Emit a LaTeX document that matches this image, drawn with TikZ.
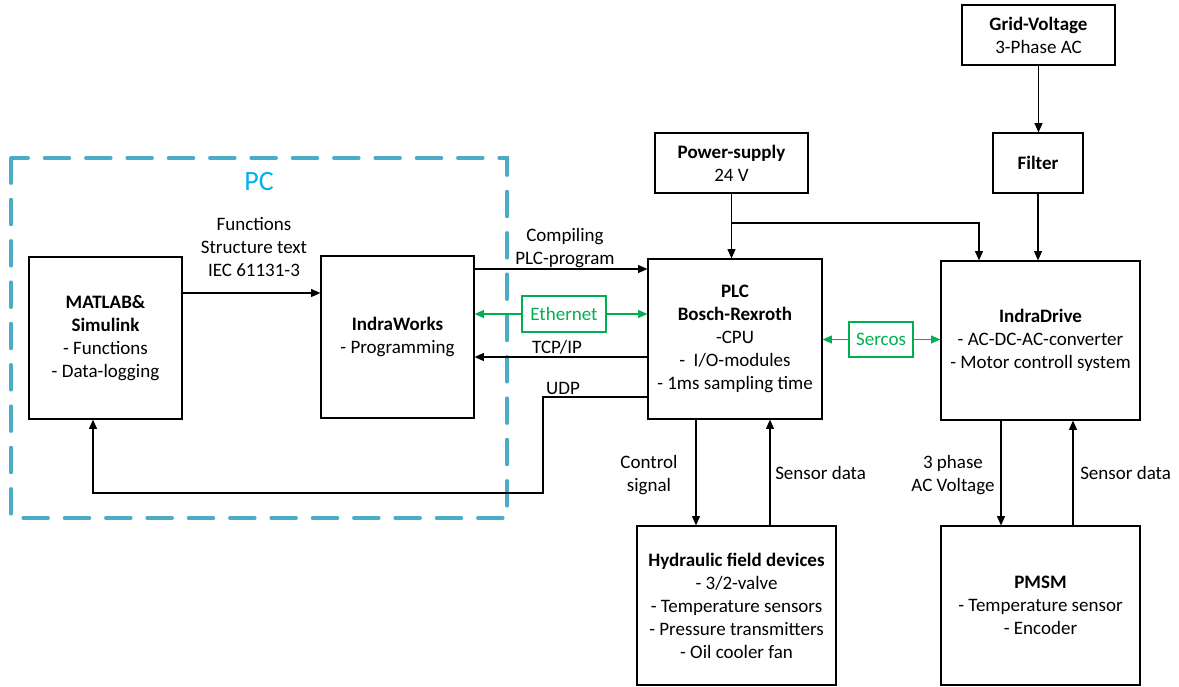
\documentclass[tikz,border=0pt]{standalone}
\usepackage{fontspec}
\setmainfont{Carlito}
\usetikzlibrary{arrows.meta}
\definecolor{pcblue}{RGB}{75,172,198}
\definecolor{pctext}{RGB}{0,176,240}
\definecolor{netgreen}{RGB}{0,176,80}
\begin{document}
\begin{tikzpicture}[x=0.75pt,y=-0.75pt,
  font=\fontsize{14.25pt}{17.25pt}\selectfont,
  box/.style={draw,line width=0.9pt,align=center,inner sep=0pt},
  netbox/.style={draw=netgreen,line width=0.9pt,text=netgreen,align=center,inner sep=0pt},
  arr/.style={-{Triangle[length=7pt,width=6pt]},line width=0.8pt},
  garr/.style={-{Triangle[length=7pt,width=6pt]},line width=0.8pt,draw=netgreen,fill=netgreen},
  lbl/.style={align=center,inner sep=0pt},
  pcbox/.style={draw=pcblue,line width=2.3pt,dash pattern=on 19pt off 12pt,line cap=round}]
\useasboundingbox (0,0) rectangle (1179,686);
% PC region
\draw[pcbox] (11,158) rectangle (507,518);
\node[lbl,text=pctext,font=\fontsize{21pt}{24pt}\selectfont] (pc) at (259,182) {PC};
% boxes
\node[box,minimum width={153*0.75pt},minimum height={162*0.75pt}] (matlab) at (105.5,338)
  {\textbf{MATLAB\&}\\\textbf{Simulink}\\- Functions\\- Data-logging};
\node[box,minimum width={153*0.75pt},minimum height={162*0.75pt}] (iw) at (397.5,337)
  {\textbf{IndraWorks}\\- Programming};
\node[box,minimum width={174*0.75pt},minimum height={160*0.75pt}] (plc) at (735,339)
  {\textbf{PLC}\\\textbf{Bosch-Rexroth}\\-CPU\\- \ I/O-modules\\- 1ms sampling time};
\node[box,minimum width={153*0.75pt},minimum height={60*0.75pt}] (ps) at (731.5,163)
  {\textbf{Power-supply}\\24 V};
\node[box,minimum width={153*0.75pt},minimum height={60*0.75pt}] (grid) at (1038.5,35)
  {\textbf{Grid-Voltage}\\3-Phase AC};
\node[box,minimum width={90*0.75pt},minimum height={60*0.75pt}] (filter) at (1038,163)
  {\textbf{Filter}};
\node[box,minimum width={199*0.75pt},minimum height={159*0.75pt}] (drive) at (1040.5,340.5)
  {\textbf{IndraDrive}\\- AC-DC-AC-converter\\- Motor controll system};
\node[box,minimum width={199*0.75pt},minimum height={159*0.75pt}] (hyd) at (736.5,605.5)
  {\textbf{Hydraulic field devices}\\- 3/2-valve\\- Temperature sensors\\- Pressure transmitters\\- Oil cooler fan};
\node[box,minimum width={199*0.75pt},minimum height={159*0.75pt}] (pmsm) at (1040.5,605.5)
  {\textbf{PMSM}\\- Temperature sensor\\- Encoder};
\node[netbox,minimum width={84*0.75pt},minimum height={36*0.75pt}] (eth) at (564,314) {Ethernet};
\node[netbox,minimum width={64*0.75pt},minimum height={35*0.75pt}] (sercos) at (881,339.5) {Sercos};
% connectors
\draw[arr] (matlab.east |- 0,293) -- (iw.west |- 0,293);
\node[lbl] (lfun) at (254,247) {Functions\\Structure text\\IEC 61131-3};
\draw[arr] (iw.east |- 0,269) -- (plc.west |- 0,269);
\node[lbl] (lcomp) at (565,248) {Compiling\\PLC-program};
\draw[garr] (eth.west) -- (iw.east |- eth.west);
\draw[garr] (eth.east) -- (plc.west |- eth.east);
\draw[arr] (plc.west |- 0,357) -- (iw.east |- 0,357);
\node[lbl] (ltcp) at (557,347) {TCP/IP};
\coordinate (u1) at (543,397);
\coordinate (u2) at (543,493);
\coordinate (u3) at (93,493);
\draw[arr] (plc.west |- u1) -- (u1) -- (u2) -- (u3) -- (matlab.south -| u3);
\node[lbl] (ludp) at (563,388) {UDP};
\coordinate (pj) at (ps.south |- 0,223);
\draw[arr] (ps.south) -- (plc.north -| ps.south);
\coordinate (pk) at (979,223);
\draw[arr] (pj) -- (pk) -- (drive.north -| pk);
\draw[arr] (grid.south) -- (filter.north -| grid.south);
\draw[arr] (filter.south) -- (drive.north -| filter.south);
\draw[garr] (sercos.west) -- (plc.east |- sercos.west);
\draw[garr] (sercos.east) -- (drive.west |- sercos.east);
\draw[arr] (plc.south -| 696,0) -- (hyd.north -| 696,0);
\draw[arr] (hyd.north -| 770,0) -- (plc.south -| 770,0);
\node[lbl] (lctrl) at (649,475) {Control\\signal};
\node[lbl,anchor=west] (lsens1) at (775,473) {Sensor data};
\draw[arr] (drive.south -| 1001,0) -- (pmsm.north -| 1001,0);
\draw[arr] (pmsm.north -| 1073,0) -- (drive.south -| 1073,0);
\node[lbl] (lphase) at (953,475) {3 phase\\AC Voltage};
\node[lbl,anchor=west] (lsens2) at (1080,473) {Sensor data};
\end{tikzpicture}
\end{document}
